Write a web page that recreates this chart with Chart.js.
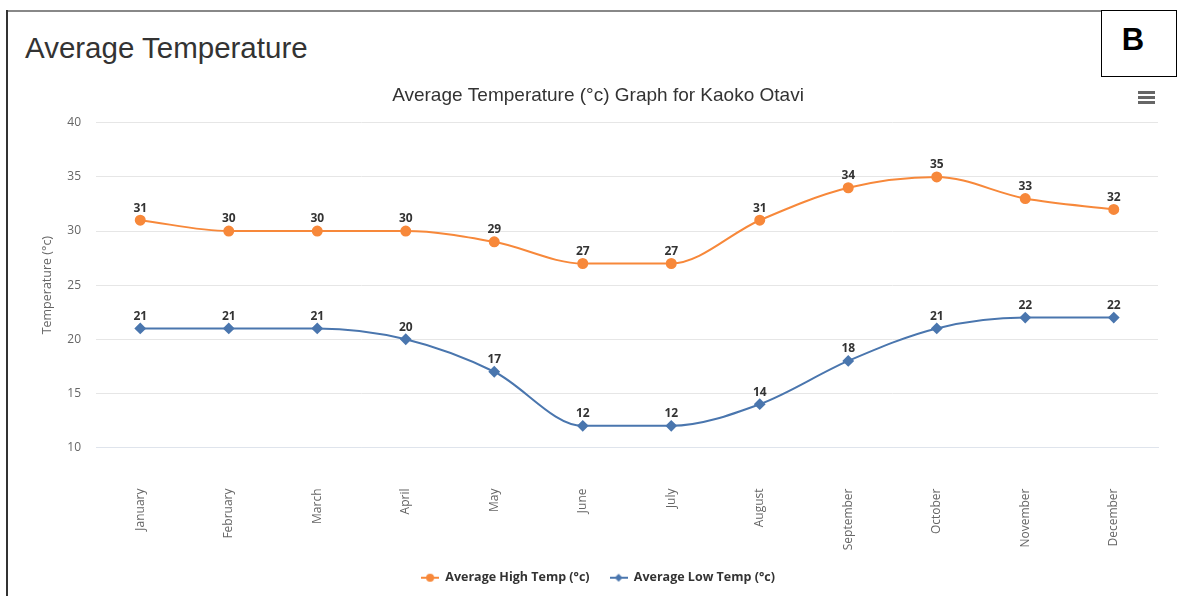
<!DOCTYPE html>
<html>
<head>
<meta charset="utf-8">
<script src="https://cdn.jsdelivr.net/npm/chart.js@4.4.1/dist/chart.umd.min.js"></script>
<style>
  html, body { margin: 0; padding: 0; background: #fff; }
  body { width: 1184px; height: 596px; position: relative; overflow: hidden; font-family: "Liberation Sans", Arial, sans-serif; }
  .frame-top { position: absolute; left: 7px; top: 10px; width: 1095px; height: 2px; background: #888; }
  .frame-left { position: absolute; left: 6px; top: 10px; width: 2px; height: 590px; background: #333; }
  .heading { position: absolute; left: 25px; top: 29px; font-size: 29.5px; color: #333; line-height: 38px; }
  .tag { position: absolute; left: 1101px; top: 10px; width: 74px; height: 65px; border: 1.5px solid #000; background: #fff;
         font-weight: bold; font-size: 31px; color: #000; text-align: center; line-height: 58px; text-indent: -12px; }
  .menu { position: absolute; left: 1138px; top: 91px; width: 17px; }
  .menu div { height: 3px; background: #666; margin-bottom: 2px; }
  .chart-box { position: absolute; left: 8px; top: 80px; width: 1176px; height: 516px; }
</style>
</head>
<body>
<div class="frame-top"></div>
<div class="frame-left"></div>
<div class="heading">Average Temperature</div>
<div class="tag">B</div>
<div class="chart-box"><canvas id="chart"></canvas></div>
<div class="menu"><div></div><div></div><div></div></div>
<script>
const months = ['January', 'February', 'March', 'April', 'May', 'June',
                'July', 'August', 'September', 'October', 'November', 'December'];
const highTemps = [31, 30, 30, 30, 29, 27, 27, 31, 34, 35, 33, 32];
const lowTemps  = [21, 21, 21, 20, 17, 12, 12, 14, 18, 21, 22, 22];
const yTicks = [10, 15, 20, 25, 30, 35, 40];

const ORANGE = '#f7883a';
const BLUE = '#4a76ae';

// Small legend symbols: a line with the series marker in its middle
function legendSymbol(color, shape) {
  const c = document.createElement('canvas');
  c.width = 18; c.height = 10;
  const g = c.getContext('2d');
  g.strokeStyle = color; g.lineWidth = 2;
  g.beginPath(); g.moveTo(0, 5); g.lineTo(18, 5); g.stroke();
  g.fillStyle = color;
  g.beginPath();
  if (shape === 'circle') {
    g.arc(9, 5, 4, 0, Math.PI * 2);
  } else {
    g.moveTo(9, 1); g.lineTo(13, 5); g.lineTo(9, 9); g.lineTo(5, 5); g.closePath();
  }
  g.fill();
  return c;
}
const symbols = [legendSymbol(ORANGE, 'circle'), legendSymbol(BLUE, 'diamond')];

// Value labels above each point
const valueLabels = {
  id: 'valueLabels',
  afterDatasetsDraw(chart) {
    const ctx = chart.ctx;
    ctx.save();
    ctx.font = 'bold 12px "Open Sans", sans-serif';
    ctx.fillStyle = '#333';
    ctx.textAlign = 'center';
    ctx.textBaseline = 'middle';
    chart.data.datasets.forEach((ds, i) => {
      const meta = chart.getDatasetMeta(i);
      meta.data.forEach((pt, j) => {
        ctx.fillText(String(ds.data[j]), pt.x, pt.y - 12);
      });
    });
    ctx.restore();
  }
};

new Chart(document.getElementById('chart'), {
  type: 'line',
  data: {
    labels: months,
    datasets: [
      {
        label: 'Average High Temp (°c)',
        data: highTemps,
        borderColor: ORANGE,
        backgroundColor: ORANGE,
        borderWidth: 2,
        pointStyle: 'circle',
        pointRadius: 4.5,
        pointHoverRadius: 4.5,
        cubicInterpolationMode: 'monotone'
      },
      {
        label: 'Average Low Temp (°c)',
        data: lowTemps,
        borderColor: BLUE,
        backgroundColor: BLUE,
        borderWidth: 2,
        pointStyle: 'rectRot',
        pointRadius: 4.5,
        pointHoverRadius: 4.5,
        cubicInterpolationMode: 'monotone'
      }
    ]
  },
  options: {
    responsive: true,
    maintainAspectRatio: false,
    animation: false,
    layout: { padding: { left: 30, right: 26, top: 0, bottom: 2 } },
    plugins: {
      title: {
        display: true,
        text: 'Average Temperature (°c) Graph for Kaoko Otavi',
        color: '#333',
        font: { family: '"Liberation Sans", Arial, sans-serif', size: 19, weight: 'normal' },
        padding: { top: 4, bottom: 16 }
      },
      legend: {
        position: 'bottom',
        labels: {
          usePointStyle: true,
          pointStyleWidth: 18,
          color: '#333',
          font: { family: '"Open Sans", sans-serif', size: 12.5, weight: 'bold' },
          padding: 20,
          generateLabels(chart) {
            return chart.data.datasets.map((ds, i) => ({
              text: ds.label,
              fillStyle: ds.borderColor,
              strokeStyle: ds.borderColor,
              fontColor: '#333',
              pointStyle: symbols[i],
              lineWidth: 0,
              hidden: false,
              datasetIndex: i
            }));
          }
        }
      },
      tooltip: { enabled: false }
    },
    scales: {
      x: {
        offset: true,
        afterFit(scale) { scale.height = 104; },
        grid: { display: false, drawTicks: false },
        border: { display: true, color: '#dfe4ec' },
        ticks: {
          color: '#666',
          font: { family: '"Open Sans", sans-serif', size: 12 },
          minRotation: 90,
          maxRotation: 90,
          padding: 41,
          autoSkip: false
        }
      },
      y: {
        min: 10,
        max: 40,
        afterFit(scale) { scale.width = 58; },
        afterBuildTicks(scale) { scale.ticks = yTicks.map(v => ({ value: v })); },
        grid: { color: '#e6e6e6', drawTicks: false },
        border: { display: false },
        ticks: {
          color: '#666',
          font: { family: '"Open Sans", sans-serif', size: 12 },
          padding: 15
        },
        title: {
          display: true,
          text: 'Temperature (°c)',
          color: '#666',
          font: { family: '"Open Sans", sans-serif', size: 12.5 },
          padding: { top: 2, bottom: 0 }
        }
      }
    }
  },
  plugins: [valueLabels]
});
</script>
</body>
</html>
